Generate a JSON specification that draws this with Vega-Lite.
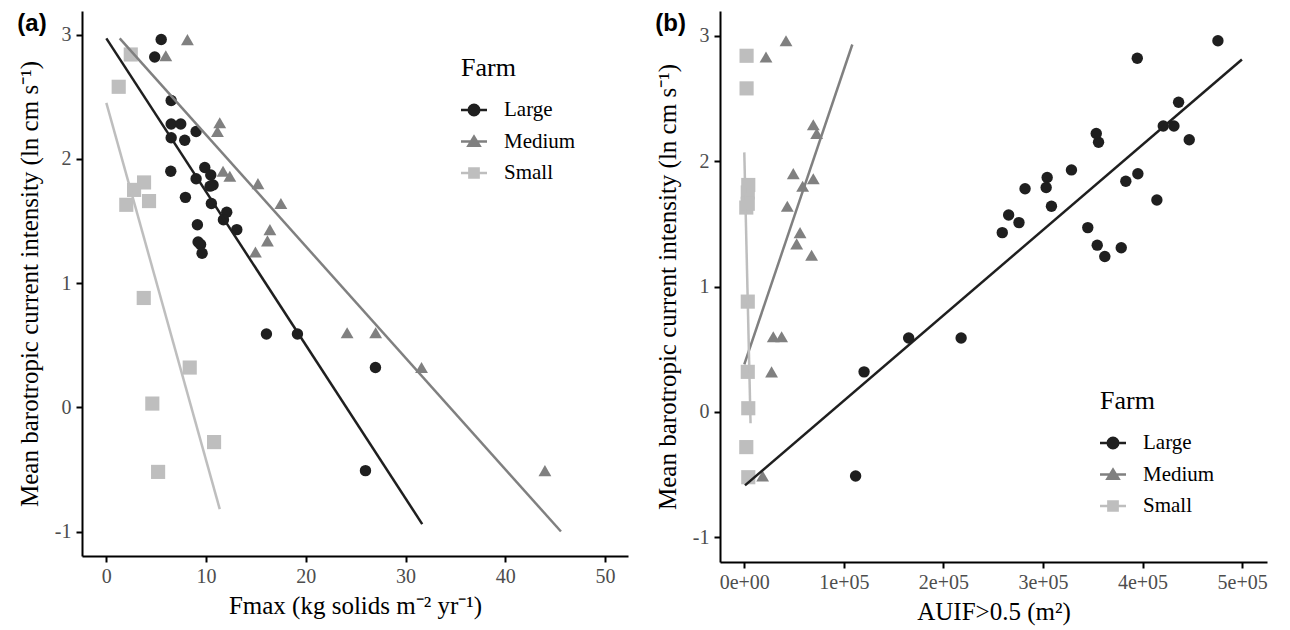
{
  "$schema": "https://vega.github.io/schema/vega-lite/v6.json",
  "background": "white",
  "padding": {"left": 17, "top": 11, "right": 5, "bottom": 5},
  "spacing": 27,
  "config": {
    "view": {"stroke": null},
    "font": "Liberation Serif",
    "axis": {
      "grid": false,
      "domainColor": "black",
      "domainWidth": 2,
      "tickColor": "black",
      "tickWidth": 2,
      "tickSize": 6,
      "labelColor": "#4d4d4d",
      "labelFont": "Liberation Serif",
      "labelFontSize": 20,
      "labelPadding": 5,
      "titleFont": "Liberation Serif",
      "titleFontSize": 25,
      "titleFontWeight": "normal",
      "titleColor": "black"
    },
    "legend": {
      "labelFont": "Liberation Serif",
      "titleFont": "Liberation Serif",
      "labelFontSize": 21,
      "titleFontSize": 26,
      "titleFontWeight": "normal",
      "labelColor": "black",
      "titleColor": "black",
      "symbolSize": 676,
      "symbolStrokeWidth": 0,
      "symbolOpacity": 1,
      "rowPadding": 8.5,
      "titlePadding": 16,
      "labelOffset": 17
    },
    "title": {"font": "Liberation Sans", "fontSize": 24, "fontWeight": "bold", "color": "black"}
  },
  "resolve": {
    "scale": {"color": "independent", "shape": "independent", "size": "independent"},
    "legend": {"color": "independent", "shape": "independent", "size": "independent"}
  },
  "datasets": {
    "pts": [
      {"farm": "Large", "fmax": 5.5, "aui": 475700, "cur": 2.96},
      {"farm": "Large", "fmax": 4.85, "aui": 394700, "cur": 2.82},
      {"farm": "Large", "fmax": 6.5, "aui": 436200, "cur": 2.47},
      {"farm": "Large", "fmax": 6.5, "aui": 420800, "cur": 2.28},
      {"farm": "Large", "fmax": 7.46, "aui": 431500, "cur": 2.28},
      {"farm": "Large", "fmax": 6.5, "aui": 446900, "cur": 2.17},
      {"farm": "Large", "fmax": 7.86, "aui": 355800, "cur": 2.15},
      {"farm": "Large", "fmax": 9.0, "aui": 353500, "cur": 2.22},
      {"farm": "Large", "fmax": 6.46, "aui": 395300, "cur": 1.9},
      {"farm": "Large", "fmax": 9.87, "aui": 328600, "cur": 1.93},
      {"farm": "Large", "fmax": 9.0, "aui": 383200, "cur": 1.84},
      {"farm": "Large", "fmax": 10.47, "aui": 304200, "cur": 1.87},
      {"farm": "Large", "fmax": 10.7, "aui": 303200, "cur": 1.79},
      {"farm": "Large", "fmax": 10.4, "aui": 282000, "cur": 1.78},
      {"farm": "Large", "fmax": 7.93, "aui": 414400, "cur": 1.69},
      {"farm": "Large", "fmax": 10.53, "aui": 308500, "cur": 1.64},
      {"farm": "Large", "fmax": 12.07, "aui": 265500, "cur": 1.57},
      {"farm": "Large", "fmax": 11.74, "aui": 275900, "cur": 1.51},
      {"farm": "Large", "fmax": 13.08, "aui": 259100, "cur": 1.43},
      {"farm": "Large", "fmax": 9.13, "aui": 345000, "cur": 1.47},
      {"farm": "Large", "fmax": 9.2, "aui": 354500, "cur": 1.33},
      {"farm": "Large", "fmax": 9.45, "aui": 378600, "cur": 1.31},
      {"farm": "Large", "fmax": 9.6, "aui": 362100, "cur": 1.24},
      {"farm": "Large", "fmax": 16.05, "aui": 165100, "cur": 0.59},
      {"farm": "Large", "fmax": 19.16, "aui": 217800, "cur": 0.59},
      {"farm": "Large", "fmax": 26.98, "aui": 120300, "cur": 0.32},
      {"farm": "Large", "fmax": 25.98, "aui": 111800, "cur": -0.51},
      {"farm": "Medium", "fmax": 8.13, "aui": 41900, "cur": 2.96},
      {"farm": "Medium", "fmax": 5.96, "aui": 21800, "cur": 2.83},
      {"farm": "Medium", "fmax": 11.37, "aui": 69300, "cur": 2.29},
      {"farm": "Medium", "fmax": 11.14, "aui": 72700, "cur": 2.22},
      {"farm": "Medium", "fmax": 11.7, "aui": 49200, "cur": 1.9},
      {"farm": "Medium", "fmax": 12.38, "aui": 69300, "cur": 1.86},
      {"farm": "Medium", "fmax": 15.2, "aui": 58600, "cur": 1.8},
      {"farm": "Medium", "fmax": 17.5, "aui": 43200, "cur": 1.64},
      {"farm": "Medium", "fmax": 16.4, "aui": 56000, "cur": 1.43},
      {"farm": "Medium", "fmax": 16.15, "aui": 52600, "cur": 1.34},
      {"farm": "Medium", "fmax": 14.95, "aui": 67600, "cur": 1.25},
      {"farm": "Medium", "fmax": 24.14, "aui": 29100, "cur": 0.6},
      {"farm": "Medium", "fmax": 27.0, "aui": 37500, "cur": 0.6},
      {"farm": "Medium", "fmax": 31.6, "aui": 27400, "cur": 0.32},
      {"farm": "Medium", "fmax": 43.97, "aui": 18400, "cur": -0.51},
      {"farm": "Small", "fmax": 2.45, "aui": 2300, "cur": 2.84},
      {"farm": "Small", "fmax": 1.24, "aui": 2300, "cur": 2.58},
      {"farm": "Small", "fmax": 2.78, "aui": 3500, "cur": 1.75},
      {"farm": "Small", "fmax": 3.78, "aui": 4000, "cur": 1.81},
      {"farm": "Small", "fmax": 2.0, "aui": 2000, "cur": 1.63},
      {"farm": "Small", "fmax": 4.28, "aui": 3500, "cur": 1.66},
      {"farm": "Small", "fmax": 3.75, "aui": 3500, "cur": 0.88},
      {"farm": "Small", "fmax": 8.36, "aui": 3500, "cur": 0.32},
      {"farm": "Small", "fmax": 4.61, "aui": 4000, "cur": 0.03},
      {"farm": "Small", "fmax": 10.8, "aui": 2000, "cur": -0.28},
      {"farm": "Small", "fmax": 5.19, "aui": 4000, "cur": -0.52}
    ],
    "la": [
      {"farm": "Large", "fmax": 0, "cur": 2.97},
      {"farm": "Large", "fmax": 31.67, "cur": -0.94},
      {"farm": "Medium", "fmax": 1.34, "cur": 2.97},
      {"farm": "Medium", "fmax": 45.58, "cur": -1.0},
      {"farm": "Small", "fmax": 0, "cur": 2.45},
      {"farm": "Small", "fmax": 11.37, "cur": -0.82}
    ],
    "lb": [
      {"farm": "Large", "aui": 700, "cur": -0.585},
      {"farm": "Large", "aui": 499800, "cur": 2.81},
      {"farm": "Medium", "aui": 0, "cur": 0.38},
      {"farm": "Medium", "aui": 108500, "cur": 2.93},
      {"farm": "Small", "aui": 0, "cur": 2.07},
      {"farm": "Small", "aui": 6300, "cur": -0.09}
    ]
  },
  "hconcat": [
    {
      "width": 546,
      "height": 545,
      "title": {"text": "(a)", "anchor": "start", "frame": "bounds", "offset": -25},
      "resolve": {"scale": {"color": "independent", "shape": "independent", "size": "independent"}},
      "layer": [
        {
          "data": {"name": "pts"},
          "mark": {"type": "point", "filled": true, "opacity": 1, "strokeWidth": 0},
          "encoding": {
            "x": {"field": "fmax", "type": "quantitative", "scale": {"domain": [-2.44, 52.3], "nice": false, "zero": false},
              "axis": {"values": [0, 10, 20, 30, 40, 50], "labelFont": "Liberation Serif", "labelPadding": 4, "title": "Fmax (kg solids  m⁻² yr⁻¹)", "titlePadding": 7}},
            "y": {"field": "cur", "type": "quantitative", "scale": {"domain": [-1.197, 3.19], "nice": false, "zero": false},
              "axis": {"values": [-1, 0, 1, 2, 3], "labelFont": "Liberation Serif", "labelExpr": "datum.value < 0 ? '-' + format(-datum.value, 'd') : format(datum.value, 'd')", "title": "Mean barotropic current intensity (ln cm s⁻¹)", "titlePadding": 12}},
            "color": {"field": "farm", "type": "nominal", "scale": {"domain": ["Large", "Medium", "Small"], "range": ["#1f1f1f", "#808080", "#bebebe"]}, "legend": null},
            "shape": {"field": "farm", "type": "nominal", "scale": {"domain": ["Large", "Medium", "Small"], "range": ["circle", "triangle-up", "square"]}, "legend": null},
            "size": {"field": "farm", "type": "nominal", "scale": {"domain": ["Large", "Medium", "Small"], "range": [130, 200, 144]}, "legend": null}
          }
        },
        {
          "data": {"name": "la"},
          "mark": {"type": "line", "strokeWidth": 2.5},
          "encoding": {
            "x": {"field": "fmax", "type": "quantitative"},
            "y": {"field": "cur", "type": "quantitative"},
            "color": {"field": "farm", "type": "nominal", "scale": {"domain": ["Large", "Medium", "Small"], "range": ["#1f1f1f", "#808080", "#bebebe"]}, "legend": null}
          }
        },
        {
          "data": {"name": "pts"},
          "transform": [{"filter": "false"}],
          "mark": {"type": "point", "filled": true, "opacity": 1, "strokeWidth": 0, "size": 676},
          "encoding": {
            "x": {"field": "fmax", "type": "quantitative"},
            "y": {"field": "cur", "type": "quantitative"},
            "color": {"field": "farm", "type": "nominal", "scale": {"domain": ["Large", "Medium", "Small"], "range": ["#1f1f1f", "#808080", "#bebebe"]},
              "legend": {"title": "Farm", "orient": "none", "legendX": 379, "legendY": 44}},
            "shape": {"field": "farm", "type": "nominal", "scale": {"domain": ["Large", "Medium", "Small"], "range": [
                "M-1,-0.09L1,-0.09L1,0.09L-1,0.09Z M0.5,0L0.462,0.191L0.354,0.354L0.191,0.462L0,0.5L-0.191,0.462L-0.354,0.354L-0.462,0.191L-0.5,0L-0.462,-0.191L-0.354,-0.354L-0.191,-0.462L0,-0.5L0.191,-0.462L0.354,-0.354L0.462,-0.191Z",
                "M-1,-0.09L1,-0.09L1,0.09L-1,0.09Z M0,-0.55L0.6,0.42L-0.6,0.42Z",
                "M-1,-0.09L1,-0.09L1,0.09L-1,0.09Z M-0.45,-0.45L0.45,-0.45L0.45,0.45L-0.45,0.45Z"]},
              "legend": {"title": "Farm", "orient": "none", "legendX": 379, "legendY": 44}}
          }
        }
      ]
    },
    {
      "width": 547,
      "height": 551,
      "title": {"text": "(b)", "anchor": "start", "frame": "bounds", "offset": -25},
      "resolve": {"scale": {"color": "independent", "shape": "independent", "size": "independent"}},
      "layer": [
        {
          "data": {"name": "pts"},
          "mark": {"type": "point", "filled": true, "opacity": 1, "strokeWidth": 0},
          "encoding": {
            "x": {"field": "aui", "type": "quantitative", "scale": {"domain": [-24400, 525000], "nice": false, "zero": false},
              "axis": {"values": [0, 100000, 200000, 300000, 400000, 500000], "labelFont": "Liberation Serif", "labelPadding": 4, "labelExpr": "datum.value === 0 ? '0e+00' : format(datum.value / 100000, 'd') + 'e+05'", "title": "AUIF>0.5 (m²)", "titlePadding": 7}},
            "y": {"field": "cur", "type": "quantitative", "scale": {"domain": [-1.196, 3.197], "nice": false, "zero": false},
              "axis": {"values": [-1, 0, 1, 2, 3], "labelFont": "Liberation Serif", "labelExpr": "datum.value < 0 ? '-' + format(-datum.value, 'd') : format(datum.value, 'd')", "title": "Mean barotropic current intensity (ln cm s⁻¹)", "titlePadding": 12}},
            "color": {"field": "farm", "type": "nominal", "scale": {"domain": ["Large", "Medium", "Small"], "range": ["#1f1f1f", "#808080", "#bebebe"]}, "legend": null},
            "shape": {"field": "farm", "type": "nominal", "scale": {"domain": ["Large", "Medium", "Small"], "range": ["circle", "triangle-up", "square"]}, "legend": null},
            "size": {"field": "farm", "type": "nominal", "scale": {"domain": ["Large", "Medium", "Small"], "range": [130, 200, 144]}, "legend": null}
          }
        },
        {
          "data": {"name": "lb"},
          "mark": {"type": "line", "strokeWidth": 2.5},
          "encoding": {
            "x": {"field": "aui", "type": "quantitative"},
            "y": {"field": "cur", "type": "quantitative"},
            "color": {"field": "farm", "type": "nominal", "scale": {"domain": ["Large", "Medium", "Small"], "range": ["#1f1f1f", "#808080", "#bebebe"]}, "legend": null}
          }
        },
        {
          "data": {"name": "pts"},
          "transform": [{"filter": "false"}],
          "mark": {"type": "point", "filled": true, "opacity": 1, "strokeWidth": 0, "size": 676},
          "encoding": {
            "x": {"field": "aui", "type": "quantitative"},
            "y": {"field": "cur", "type": "quantitative"},
            "color": {"field": "farm", "type": "nominal", "scale": {"domain": ["Large", "Medium", "Small"], "range": ["#1f1f1f", "#808080", "#bebebe"]},
              "legend": {"title": "Farm", "orient": "none", "legendX": 380, "legendY": 377}},
            "shape": {"field": "farm", "type": "nominal", "scale": {"domain": ["Large", "Medium", "Small"], "range": [
                "M-1,-0.09L1,-0.09L1,0.09L-1,0.09Z M0.5,0L0.462,0.191L0.354,0.354L0.191,0.462L0,0.5L-0.191,0.462L-0.354,0.354L-0.462,0.191L-0.5,0L-0.462,-0.191L-0.354,-0.354L-0.191,-0.462L0,-0.5L0.191,-0.462L0.354,-0.354L0.462,-0.191Z",
                "M-1,-0.09L1,-0.09L1,0.09L-1,0.09Z M0,-0.55L0.6,0.42L-0.6,0.42Z",
                "M-1,-0.09L1,-0.09L1,0.09L-1,0.09Z M-0.45,-0.45L0.45,-0.45L0.45,0.45L-0.45,0.45Z"]},
              "legend": {"title": "Farm", "orient": "none", "legendX": 380, "legendY": 377}}
          }
        }
      ]
    }
  ]
}
